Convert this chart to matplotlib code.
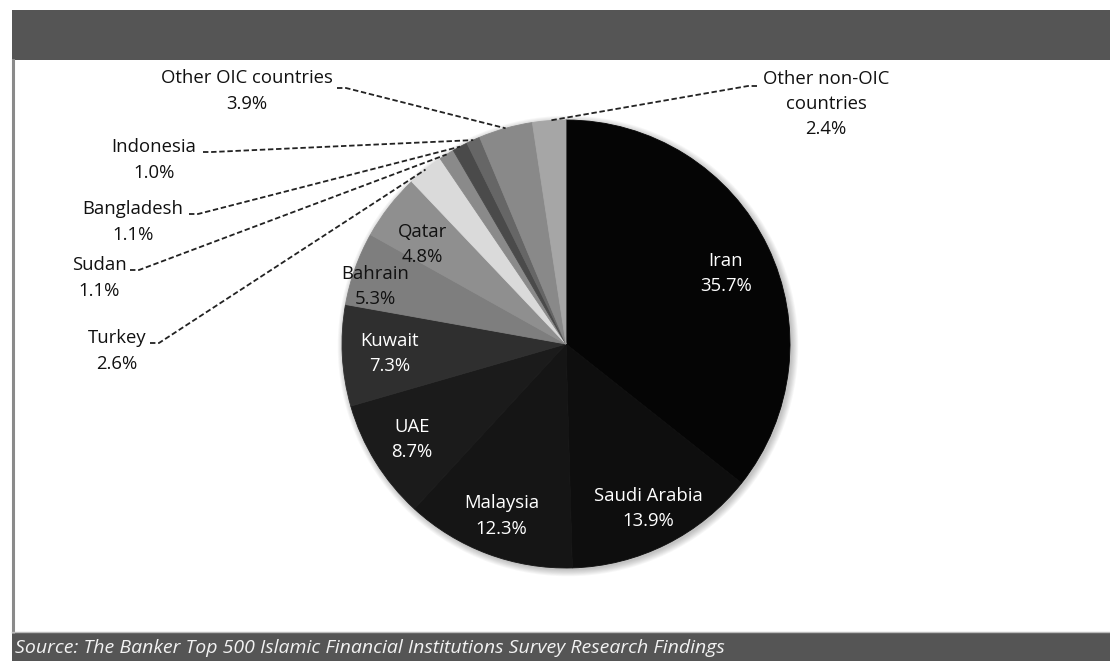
import matplotlib

matplotlib.use("Agg")
import numpy as np  # noqa: E402
import matplotlib.pyplot as plt  # noqa: E402
from matplotlib.patches import Circle, Rectangle  # noqa: E402

# data (clockwise from 12 o'clock)
countries = ["Iran", "Saudi Arabia", "Malaysia", "UAE", "Kuwait", "Bahrain", "Qatar",
             "Turkey", "Sudan", "Bangladesh", "Indonesia", "Other OIC countries",
             "Other non-OIC\ncountries"]
shares = [35.7, 13.9, 12.3, 8.7, 7.3, 5.3, 4.8, 2.6, 1.1, 1.1, 1.0, 3.9, 2.4]
source = "Source: The Banker Top 500 Islamic Financial Institutions Survey Research Findings"

# greys per slice
colors = ["#050505", "#0e0e0e", "#151515", "#1b1b1b", "#2f2f2f", "#7e7e7e", "#8f8f8f",
          "#dadada", "#8a8a8a", "#4a4a4a", "#666666", "#898989", "#a6a6a6"]

W, H = 1110, 661
CX, CY, R = 566, H - 344, 224
FONT = ["Open Sans", "DejaVu Sans"]
FS, LS = 13.3, 1.52

# inside labels: radial position (fraction of R), angle nudge (deg) and text colour
inside = {"Iran": (0.78, -2, "white"), "Saudi Arabia": (0.82, 0, "white"),
          "Malaysia": (0.82, 0, "white"), "UAE": (0.81, 0, "white"),
          "Kuwait": (0.79, 0, "white"), "Bahrain": (0.89, 3, "#111"),
          "Qatar": (0.78, 3, "#111")}
# outside labels: text centre and start of the leader line (pixel coords)
outside = {"Turkey": ((117, 351), (150, 343)),
           "Sudan": ((99, 278), (130, 270)),
           "Bangladesh": ((133, 222), (189, 214)),
           "Indonesia": ((154, 160), (203, 152)),
           "Other OIC countries": ((247, 91), (337, 88)),
           "Other non-OIC\ncountries": ((826, 104), (757, 86))}


def main():
    fig = plt.figure(figsize=(W / 100, H / 100), dpi=100)
    ax = fig.add_axes([0, 0, 1, 1])

    # soft shadow behind the pie
    for i in range(8):
        ax.add_patch(Circle((CX + 2, CY - 2), R + i * 0.9, facecolor="#000",
                            edgecolor="none", alpha=0.03, zorder=1))
    wedges, _ = ax.pie(shares, colors=colors, startangle=90, counterclock=False,
                       center=(CX, CY), radius=R,
                       wedgeprops=dict(linewidth=0.6, zorder=2))

    for w, name, val in zip(wedges, countries, shares):
        w.set_edgecolor(w.get_facecolor())
        mid = (w.theta1 + w.theta2) / 2
        label = f"{name}\n{val:.1f}%"
        if name in inside:
            f, nudge, col = inside[name]
            a = np.deg2rad(mid + nudge)
            ax.text(CX + f * R * np.cos(a), CY + f * R * np.sin(a), label,
                    ha="center", va="center", color=col, fontsize=FS,
                    linespacing=LS, family=FONT, zorder=5)
        else:
            a = np.deg2rad(mid)
            (tx, ty), (lx, ly) = outside[name]
            ax.text(tx, H - ty, label, ha="center", va="center", color="#111",
                    fontsize=FS, linespacing=LS, family=FONT, zorder=5)
            ex, ey = CX + R * np.cos(a), CY + R * np.sin(a)
            step = 9 if lx < ex else -9
            ax.plot([lx, lx + step, ex], [H - ly, H - ly, ey], color="#222", lw=1.3,
                    ls=(0, (3, 1.5)), zorder=4)

    # header, footer and frame
    ax.add_patch(Rectangle((12, H - 60), W - 12, 50, facecolor="#555555", edgecolor="none"))
    ax.add_patch(Rectangle((12, 0), W - 12, H - 632, facecolor="#555555", edgecolor="none"))
    ax.plot([13, 13], [H - 60, H - 632], color="#8a8a8a", lw=2.2)
    ax.plot([12, W], [H - 632, H - 632], color="#bbbbbb", lw=1)
    ax.text(15, H - 648, source, ha="left", va="center", color="#f2f2f2",
            fontsize=14, style="italic", family=FONT)

    ax.set_xlim(0, W)
    ax.set_ylim(0, H)
    ax.set_aspect("equal")
    ax.axis("off")
    fig.savefig("out.png", dpi=100)


if __name__ == "__main__":
    main()
